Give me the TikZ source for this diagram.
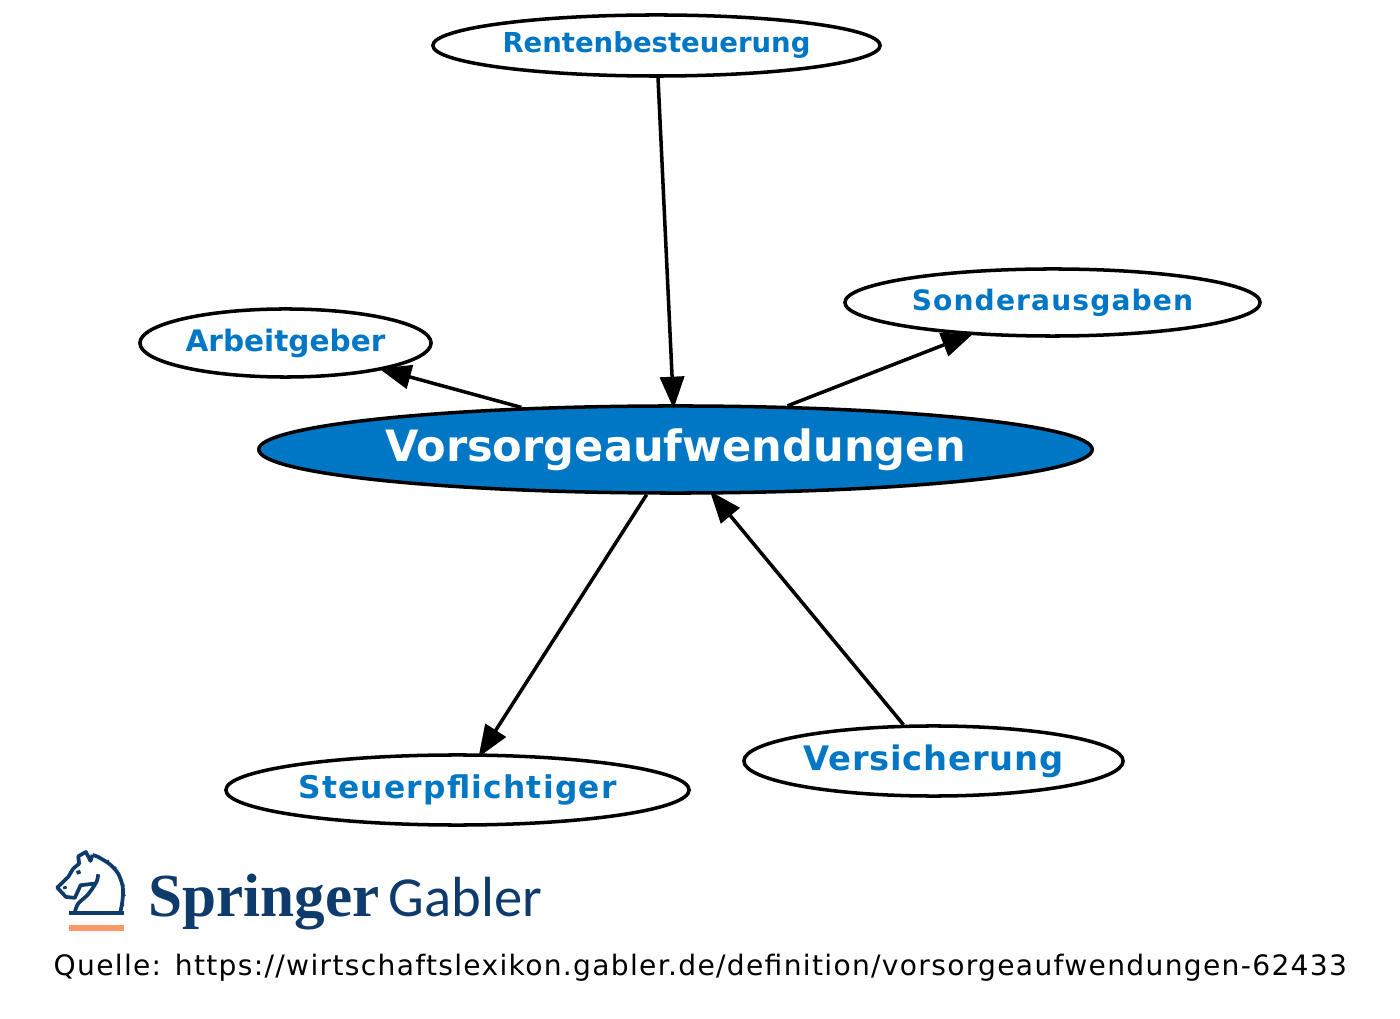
\documentclass[tikz,border=0pt]{standalone}
\usepackage{fontspec}
\setmainfont{DejaVu Sans}
\newfontfamily\logoserif{Liberation Serif}
\newfontfamily\logosans{Carlito}
\usetikzlibrary{arrows.meta,shapes.geometric}
\definecolor{gablerblue}{HTML}{0077C5}
\definecolor{logoblue}{HTML}{0F3B6C}
\definecolor{logoorange}{HTML}{FF9A66}
\begin{document}
\begin{tikzpicture}[x=0.01cm,y=-0.01cm,-{Triangle[length=0.32cm,width=0.24cm]},
            main node/.style={ellipse,draw=black,line width=1pt,inner sep=0pt,fill=white,
                text=gablerblue,font=\bfseries},
            center node/.style={main node,fill=gablerblue,text=white}]
        \useasboundingbox (0,0) rectangle (1400,1019);

        % Define vertices
        \node[center node,minimum width=8.33cm,minimum height=0.87cm,font=\bfseries\fontsize{12.27}{14}\selectfont] (vorsorge) at (675.5,449.5) {Vorsorgeaufwendungen};
        \node[main node,minimum width=4.47cm,minimum height=0.61cm,font=\bfseries\fontsize{7.82}{10}\selectfont] (rente) at (656.5,45.5) {\raisebox{-0.3pt}{Rentenbesteuerung}};
        \node[main node,minimum width=4.15cm,minimum height=0.67cm,font=\bfseries\fontsize{8}{10}\selectfont\addfontfeature{LetterSpace=4}] (sonder) at (1052.5,302.5) {Sonderausgaben\hspace{1pt}};
        \node[main node,minimum width=2.91cm,minimum height=0.68cm,font=\bfseries\fontsize{8.4}{10}\selectfont] (arbeit) at (285.5,343) {Arbeitgeber};
        \node[main node,minimum width=4.63cm,minimum height=0.70cm,font=\bfseries\fontsize{8.9}{10}\selectfont\addfontfeature{LetterSpace=4}] (steuer) at (457.5,790) {Steuerpflichtiger};
        \node[main node,minimum width=3.79cm,minimum height=0.70cm,font=\bfseries\fontsize{9.6}{10}\selectfont\addfontfeature{LetterSpace=2.2}] (versicherung) at (933.5,761) {Versicherung};

        % Draw edges
        \path[line width=1pt,shorten >=-0.045cm]
            (rente) edge (vorsorge)
            (vorsorge) edge (sonder)
            (vorsorge) edge (arbeit)
            (vorsorge) edge (steuer)
            (versicherung) edge (vorsorge);

        % Logo
        \begin{scope}[x=0.003333cm,y=-0.003333cm,shift={(150,2535)},-,draw=logoblue,line width=1.05pt,line join=round]
            \draw plot[smooth] coordinates {(212,205) (218,170) (219,130) (205,90) (180,62) (145,40) (128,34)};
            \draw (128,34) -- (122,52) -- (108,25) -- (85,38) -- (88,60) -- (70,75) -- (55,100) -- (22,132) -- (48,160) -- (75,163) -- (92,125) -- (135,120);
            \draw plot[smooth] coordinates {(145,92) (140,115) (115,152) (85,180) (75,205)};
            \draw (80,88) -- (92,84);
            \draw (44,128) -- (46,136);
            \foreach \manex/\manexy in {145/37,175/52,197/72,210/97,221/125,224/155,220/185}
                \fill[logoblue] (\manex,\manexy) circle (4);
            \draw[line width=1.2pt] (58,208) -- (222,208);
            \fill[logoorange,draw=none] (58,243) rectangle (222,263);
        \end{scope}
        \node[text=logoblue,anchor=base west,inner sep=0pt,font=\logoserif\bfseries\fontsize{17.4}{20}\selectfont] (springer) at (148,916) {Springer};
        \node[text=logoblue,anchor=base west,inner sep=0pt,font=\logosans\fontsize{16.1}{20}\selectfont] (gabler) at (388,916) {Gabler};

        % Source
        \node[text=black,anchor=base west,inner sep=0pt,font=\fontsize{8}{10}\selectfont\addfontfeature{LetterSpace=4.65}] (quelle) at (53,975) {Quelle: https://wirtschaftslexikon.gabler.de/definition/vorsorgeaufwendungen-62433};
\end{tikzpicture}
\end{document}
